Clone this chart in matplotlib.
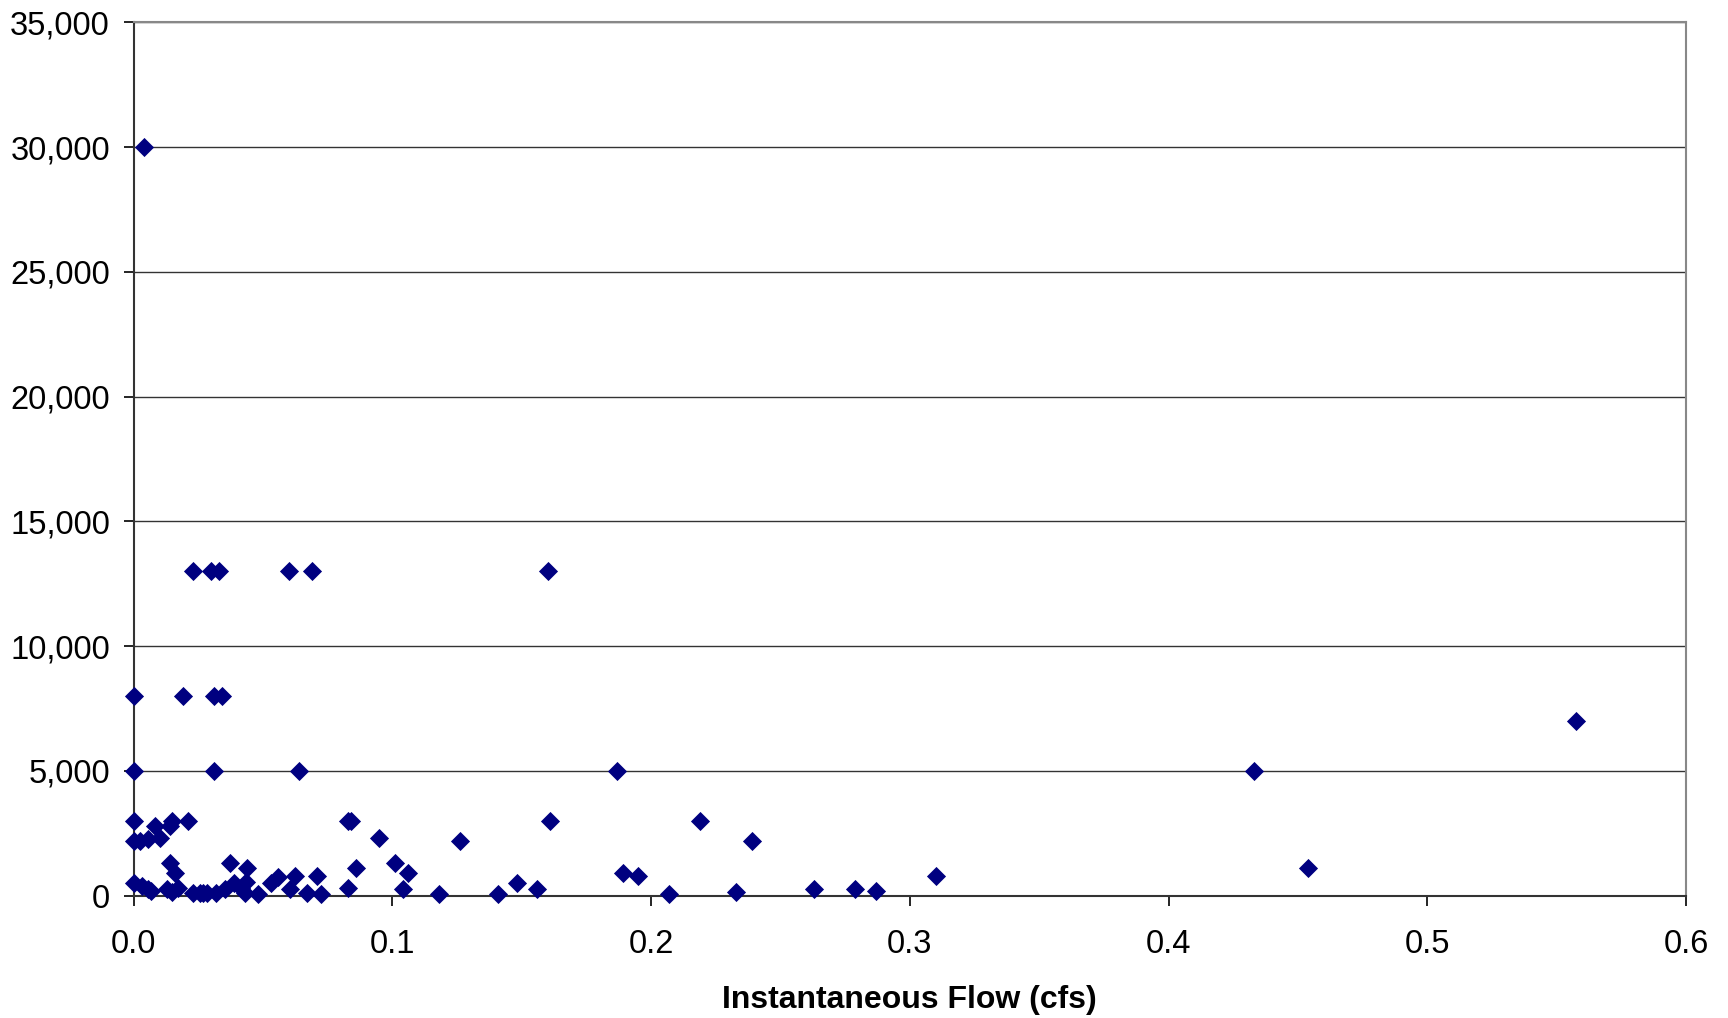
import matplotlib.pyplot as plt
from matplotlib.ticker import FuncFormatter, MultipleLocator

plt.rcParams['font.family'] = ['Liberation Sans', 'DejaVu Sans']

# Flow (cfs) and concentration values
flow = [0.004,
        0.023, 0.030, 0.033, 0.060, 0.069, 0.160,
        0.000, 0.019, 0.031, 0.034,
        0.5575,
        0.000, 0.031, 0.064, 0.187, 0.433,
        0.000, 0.0147, 0.014, 0.021, 0.083, 0.084, 0.161, 0.219,
        0.000, 0.0025, 0.0055, 0.0083, 0.0102, 0.095, 0.126, 0.239,
        0.014, 0.0372, 0.101, 0.044, 0.086, 0.454,
        0.016, 0.106, 0.189, 0.0558, 0.0622, 0.071, 0.195, 0.310,
        0.000, 0.0031, 0.039, 0.0436, 0.0532, 0.148,
        0.0057, 0.0067, 0.0128, 0.0173, 0.0353, 0.0417, 0.0603, 0.083,
        0.104, 0.156, 0.263, 0.279, 0.287,
        0.0147, 0.023, 0.0256, 0.0269, 0.0282, 0.032, 0.043, 0.067, 0.233,
        0.048, 0.0723, 0.118, 0.141, 0.207]
count = [30000,
         13000, 13000, 13000, 13000, 13000, 13000,
         8000, 8000, 8000, 8000,
         7000,
         5000, 5000, 5000, 5000, 5000,
         3000, 3000, 2800, 3000, 3000, 3000, 3000, 3000,
         2200, 2200, 2250, 2800, 2300, 2300, 2200, 2200,
         1300, 1300, 1300, 1100, 1100, 1100,
         900, 900, 900, 750, 800, 800, 800, 800,
         500, 400, 500, 550, 500, 500,
         250, 200, 250, 300, 250, 300, 250, 300,
         250, 250, 250, 250, 200,
         150, 100, 100, 100, 100, 100, 100, 100, 150,
         50, 50, 50, 50, 50]

fig = plt.figure(figsize=(17.28, 10.18), dpi=100)
ax = fig.add_axes([0.0773, 0.1203, 0.8984, 0.8577])

ax.scatter(flow, count, marker='D', s=95, color='#000080', zorder=3, clip_on=False,
           linewidths=0)

ax.set_xlim(0, 0.6)
ax.set_ylim(0, 35000)
ax.xaxis.set_major_locator(MultipleLocator(0.1))
ax.yaxis.set_major_locator(MultipleLocator(5000))
ax.xaxis.set_major_formatter(FuncFormatter(lambda v, p: f'{v:.1f}'))
ax.yaxis.set_major_formatter(FuncFormatter(lambda v, p: f'{v:,.0f}'))

ax.yaxis.grid(True, color='#333333', linewidth=1)
ax.set_axisbelow(True)
ax.tick_params(axis='both', direction='out', length=7, width=1.2, labelsize=23.5,
               colors='black')
ax.tick_params(axis='x', pad=17)
ax.tick_params(axis='y', pad=10)

for side in ['left', 'bottom']:
    ax.spines[side].set_color('#333333')
    ax.spines[side].set_linewidth(1.5)
for side in ['top', 'right']:
    ax.spines[side].set_color('#888888')
    ax.spines[side].set_linewidth(1.5)

ax.set_xlabel('Instantaneous Flow (cfs)', fontsize=23, fontweight='bold', labelpad=18)

fig.savefig('out.png', dpi=100)
